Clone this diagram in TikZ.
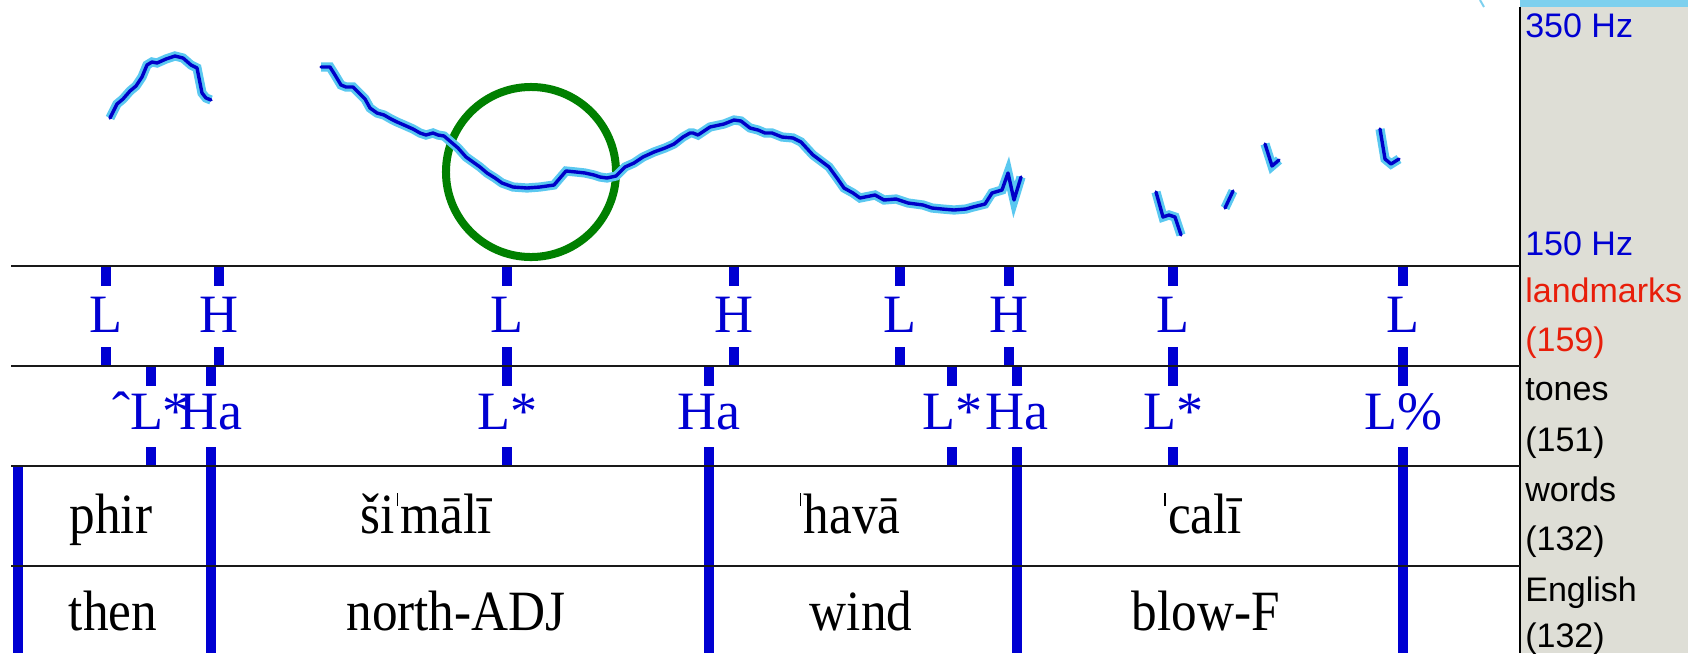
\documentclass[tikz,border=0pt]{standalone}
\usepackage{fontspec}
\setmainfont{Liberation Serif}
\newfontfamily\wordfont[FakeStretch=0.9]{Liberation Serif}
\newfontfamily\tonefont{Liberation Serif}
\newfontfamily\panelfont{Liberation Sans}
\usepackage{tikz}

\definecolor{tierblue}{RGB}{0,0,210}
\definecolor{pitchblue}{RGB}{0,0,200}
\definecolor{pitchglow}{RGB}{90,200,240}
\definecolor{panelgrey}{RGB}{222,222,214}
\definecolor{markred}{RGB}{232,30,10}
\definecolor{ringgreen}{RGB}{0,128,0}
\definecolor{barblue}{RGB}{125,208,238}

% primary stress mark, set tight
\newcommand\stressmark{\kern0.04em\rule[0.47em]{0.03em}{0.23em}\kern0.04em}

\begin{document}
\begin{tikzpicture}[x=0.025cm, y=0.025cm,
  rule/.style={line width=0.06cm, black!90},
  tick/.style={line width=0.27cm, tierblue},
  bound/.style={line width=0.27cm, tierblue},
  pitch/.style={pitchblue, line width=0.085cm, line join=round, line cap=round,
    preaction={draw=pitchglow, line width=0.23cm}},
  ring/.style={circle, draw=ringgreen, line width=0.2cm, minimum size=4.25cm, inner sep=0},
  lmark/.style={inner sep=0, minimum height=1.525cm, text height=0.875cm, text depth=0.1cm,
    text=tierblue, font=\tonefont\fontsize{38.4pt}{40pt}\selectfont},
  tone/.style={lmark, text depth=0.225cm},
  word/.style={inner sep=0, anchor=base, font=\wordfont\fontsize{40.5pt}{42pt}\selectfont},
  tier/.style={inner sep=0, anchor=base west, font=\panelfont\fontsize{24.2pt}{26pt}\selectfont}]
  \useasboundingbox (0,0) rectangle (1688,-653);

  % side panel
  \fill[panelgrey] (1520,0) rectangle (1688,-653);
  \fill[barblue] (1520,0) rectangle (1688,-7);
  \draw[barblue, line width=0.05cm] (1480,0) -- (1484,-7);
  \draw[line width=0.06cm] (1520,-7) -- (1520,-653);

  \coordinate (r1) at (11,-266);
  \coordinate (r2) at (11,-366);
  \coordinate (r3) at (11,-466);
  \coordinate (r4) at (11,-566);

  % pitch track
  \node[ring] (focus) at (531,-172) {};
  \draw[pitch] (110,-118) -- (117,-104) -- (123,-99) -- (130,-91) -- (136,-86) -- (142,-77)
    -- (147,-65) -- (152,-62) -- (157,-63) -- (166,-59) -- (175,-56) -- (183,-58) -- (191,-65)
    -- (197,-68) -- (202,-93) -- (206,-98) -- (211,-100);
  \draw[pitch] (321,-67) -- (330,-67) -- (335,-75) -- (341,-85) -- (346,-87) -- (353,-87)
    -- (359,-93) -- (365,-99) -- (370,-108) -- (377,-113) -- (384,-115) -- (391,-119)
    -- (397,-122) -- (404,-125) -- (413,-129) -- (420,-133) -- (426,-135) -- (433,-133)
    -- (438,-135) -- (444,-136) -- (451,-142) -- (458,-148) -- (466,-157) -- (473,-162)
    -- (480,-167) -- (487,-173) -- (495,-178) -- (502,-183) -- (513,-187) -- (527,-188)
    -- (540,-187) -- (554,-185) -- (560,-178) -- (566,-171) -- (576,-172) -- (585,-173)
    -- (594,-175) -- (600,-177) -- (607,-178) -- (616,-176) -- (625,-167) -- (634,-163)
    -- (643,-157) -- (654,-152) -- (665,-148) -- (674,-144) -- (683,-137) -- (690,-133)
    -- (693,-133) -- (698,-135) -- (710,-127) -- (724,-124) -- (734,-120) -- (741,-121)
    -- (750,-128) -- (758,-130) -- (765,-133) -- (772,-133) -- (782,-137) -- (793,-138)
    -- (801,-142) -- (813,-155) -- (829,-167) -- (837,-178) -- (844,-188) -- (853,-193)
    -- (860,-198) -- (875,-195) -- (884,-200) -- (896,-199) -- (908,-203) -- (923,-205)
    -- (932,-208) -- (942,-209) -- (954,-210) -- (966,-209) -- (973,-207) -- (985,-204)
    -- (992,-193) -- (1002,-190) -- (1008,-173) -- (1014,-200) -- (1021,-177);
  \draw[pitch] (1156,-192) -- (1163,-217) -- (1169,-215) -- (1175,-217) -- (1181,-235);
  \draw[pitch] (1225,-208) -- (1233,-191);
  \draw[pitch] (1265,-144) -- (1272,-166) -- (1279,-160);
  \draw[pitch] (1380,-129) -- (1385,-159) -- (1391,-164) -- (1399,-159);

  % landmarks
  \node[lmark] (l1) at (106,-316.5) {L};
  \node[lmark] (l2) at (219,-316.5) {H};
  \node[lmark] (l3) at (507,-316.5) {L};
  \node[lmark] (l4) at (734,-316.5) {H};
  \node[lmark] (l5) at (900,-316.5) {L};
  \node[lmark] (l6) at (1009,-316.5) {H};
  \node[lmark] (l7) at (1173,-316.5) {L};
  \node[lmark] (l8) at (1403,-316.5) {L};
  \draw[tick] (l1.north) -- (l1.north |- r1);  \draw[tick] (l1.south) -- (l1.south |- r2);
  \draw[tick] (l2.north) -- (l2.north |- r1);  \draw[tick] (l2.south) -- (l2.south |- r2);
  \draw[tick] (l3.north) -- (l3.north |- r1);  \draw[tick] (l3.south) -- (l3.south |- r2);
  \draw[tick] (l4.north) -- (l4.north |- r1);  \draw[tick] (l4.south) -- (l4.south |- r2);
  \draw[tick] (l5.north) -- (l5.north |- r1);  \draw[tick] (l5.south) -- (l5.south |- r2);
  \draw[tick] (l6.north) -- (l6.north |- r1);  \draw[tick] (l6.south) -- (l6.south |- r2);
  \draw[tick] (l7.north) -- (l7.north |- r1);  \draw[tick] (l7.south) -- (l7.south |- r2);
  \draw[tick] (l8.north) -- (l8.north |- r1);  \draw[tick] (l8.south) -- (l8.south |- r2);

  % tones
  \node[tone] (t1) at (151,-416.5) {ˆL*};
  \node[tone] (t2) at (211,-416.5) {Ha};
  \node[tone] (t3) at (507,-416.5) {L*};
  \node[tone] (t4) at (709,-416.5) {Ha};
  \node[tone] (t5) at (952,-416.5) {L*};
  \node[tone] (t6) at (1017,-416.5) {Ha};
  \node[tone] (t7) at (1173,-416.5) {L*};
  \node[tone] (t8) at (1403,-416.5) {L\%};
  \draw[tick] (t1.north) -- (t1.north |- r2);  \draw[tick] (t1.south) -- (t1.south |- r3);
  \draw[tick] (t2.north) -- (t2.north |- r2);  \draw[tick] (t2.south) -- (t2.south |- r3);
  \draw[tick] (t3.north) -- (t3.north |- r2);  \draw[tick] (t3.south) -- (t3.south |- r3);
  \draw[tick] (t4.north) -- (t4.north |- r2);  \draw[tick] (t4.south) -- (t4.south |- r3);
  \draw[tick] (t5.north) -- (t5.north |- r2);  \draw[tick] (t5.south) -- (t5.south |- r3);
  \draw[tick] (t6.north) -- (t6.north |- r2);  \draw[tick] (t6.south) -- (t6.south |- r3);
  \draw[tick] (t7.north) -- (t7.north |- r2);  \draw[tick] (t7.south) -- (t7.south |- r3);
  \draw[tick] (t8.north) -- (t8.north |- r2);  \draw[tick] (t8.south) -- (t8.south |- r3);

  % word boundaries
  \draw[bound] (18,-466) -- (18,-653);
  \draw[bound] (211,-466) -- (211,-653);
  \draw[bound] (709,-466) -- (709,-653);
  \draw[bound] (1017,-466) -- (1017,-653);
  \draw[bound] (1403,-466) -- (1403,-653);

  % tier rules
  \draw[rule] (r1) -- (1520,-266);
  \draw[rule] (r2) -- (1520,-366);
  \draw[rule] (r3) -- (1520,-466);
  \draw[rule] (r4) -- (1520,-566);

  % words and glosses
  \node[word] (w1) at (111,-533) {phir};
  \node[word] (w2) at (426,-533) {ši\stressmark mālī};
  \node[word] (w3) at (849,-533) {\stressmark havā};
  \node[word] (w4) at (1202,-533) {\stressmark calī};
  \node[word] (e1) at (113,-630) {then};
  \node[word] (e2) at (456,-630) {north-ADJ};
  \node[word] (e3) at (861,-630) {wind};
  \node[word] (e4) at (1206,-630) {blow-F};

  % tier names
  \node[tier, text=tierblue] (hztop) at (1525,-37) {350 Hz};
  \node[tier, text=tierblue] (hzbot) at (1525,-255) {150 Hz};
  \node[tier, text=markred] (n1) at (1525,-302) {landmarks};
  \node[tier, text=markred] (c1) at (1525,-351) {(159)};
  \node[tier] (n2) at (1525,-400) {tones};
  \node[tier] (c2) at (1525,-451) {(151)};
  \node[tier] (n3) at (1525,-501) {words};
  \node[tier] (c3) at (1525,-550) {(132)};
  \node[tier] (n4) at (1525,-601) {English};
  \node[tier] (c4) at (1525,-647) {(132)};
\end{tikzpicture}
\end{document}
